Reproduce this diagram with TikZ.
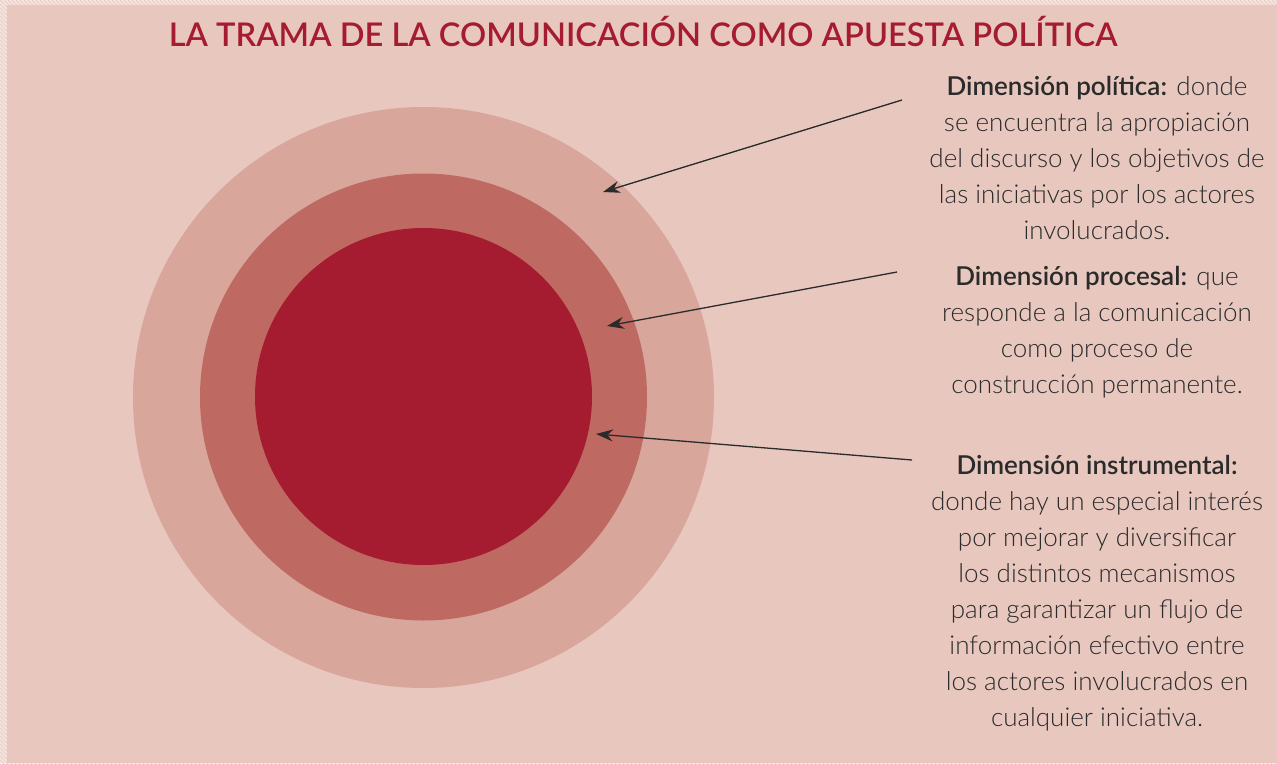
\documentclass[tikz,border=0pt]{standalone}
\usepackage{fontspec}
\setmainfont{Lato}[UprightFont={* Light},BoldFont={* Semibold}]
\usetikzlibrary{arrows.meta}
\definecolor{bgc}{HTML}{E8C8BE}
\definecolor{hatchc}{HTML}{F6E8E4}
\definecolor{ringa}{HTML}{D8A69B}
\definecolor{ringb}{HTML}{BE6961}
\definecolor{core}{HTML}{A51B2F}
\definecolor{titlec}{HTML}{A51B2F}
\definecolor{txt}{HTML}{2B2B2B}
\tikzset{
  disc/.style={circle, draw=none, inner sep=0pt},
  desc/.style={align=center, text=txt, inner sep=0pt, font=\fontsize{26}{36}\selectfont},
  pointer/.style={draw=txt, line width=1.3pt, -{Stealth[length=17pt,width=12pt]}},
}
\begin{document}
\begin{tikzpicture}[x=1pt,y=-1pt]
\useasboundingbox (0,0) rectangle (1277,763);
% hatched border
\fill[hatchc] (0,0) rectangle (1277,763);
\begin{scope}
\clip (0,0) rectangle (1277,763);
\foreach \i in {-800,-796,...,1300} {
  \draw[bgc!85!white, line width=1.2pt] (\i,0) -- (\i+800,800);
}
\end{scope}
\fill[bgc] (7,5) rectangle (1277,763);
% title
\node[text=titlec, font=\bfseries\fontsize{32.6}{36}\selectfont, inner sep=0pt] (title) at (643,32) {LA TRAMA DE LA COMUNICACIÓN COMO APUESTA POLÍTICA};
% circles
\node[disc, fill=ringa, minimum size=581pt] (outer) at (423.5,397.5) {};
\node[disc, fill=ringb, minimum size=447pt] (middle) at (423.5,397) {};
\node[disc, fill=core, minimum size=337pt] (inner) at (423.5,396.5) {};
% texts
\node[desc, anchor=north] (pol) at (1097,76) {\textbf{Dimensión política:} donde\\se encuentra la apropiación\\del discurso y los objetivos de\\las iniciativas por los actores\\involucrados.};
\node[desc, anchor=north] (pro) at (1097,266) {\textbf{Dimensión procesal:} que\\responde a la comunicación\\como proceso de\\construcción permanente.};
\node[desc, anchor=north] (ins) at (1097,455) {\textbf{Dimensión instrumental:}\\donde hay un especial interés\\por mejorar y diversificar\\los distintos mecanismos\\para garantizar un flujo de\\información efectivo entre\\los actores involucrados en\\cualquier iniciativa.};
% arrows
\coordinate (polS) at (902,100);
\coordinate (polE) at (603,192);
\coordinate (proS) at (897,272);
\coordinate (proE) at (607,326);
\coordinate (insS) at (912,460);
\coordinate (insE) at (596,434);
\draw[pointer] (polS) -- (polE);
\draw[pointer] (proS) -- (proE);
\draw[pointer] (insS) -- (insE);
\end{tikzpicture}
\end{document}
